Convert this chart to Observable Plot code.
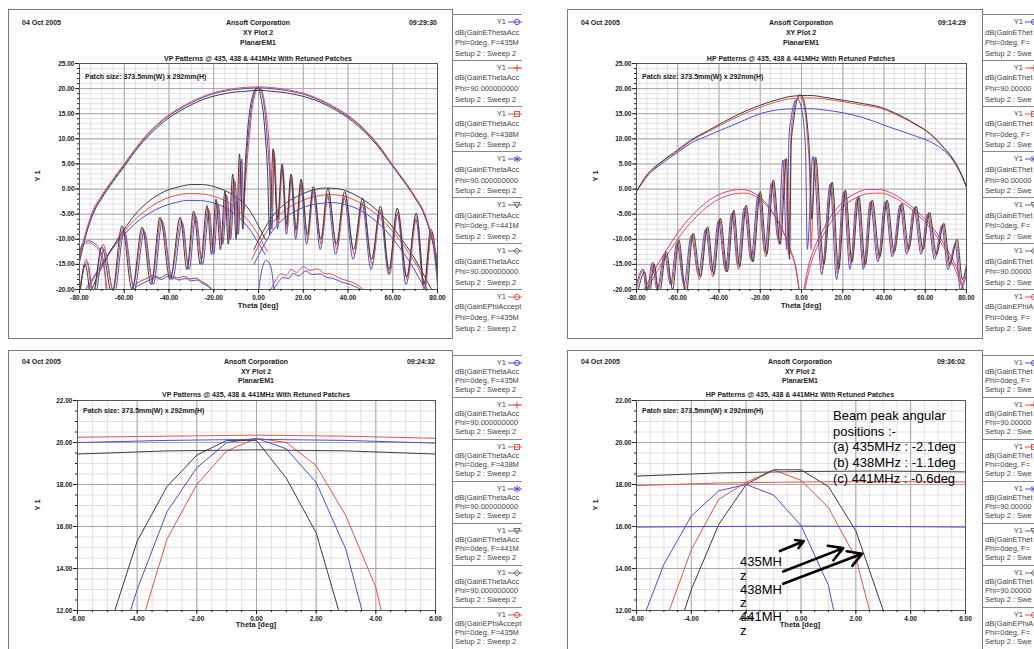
<!DOCTYPE html>
<html><head><meta charset="utf-8">
<script src="https://cdn.jsdelivr.net/npm/d3@7"></script>
<script src="https://cdn.jsdelivr.net/npm/@observablehq/plot@0.6"></script>
<style>
body{margin:0;background:#fff;}
#page{position:relative;width:1034px;height:649px;overflow:hidden;background:#fff;font-family:"Liberation Sans",Arial,sans-serif;}
.t{position:absolute;white-space:nowrap;line-height:1;}
.h{font-weight:bold;font-size:7px;color:#222;}
.lab{font-weight:bold;font-size:7.5px;color:#222;}
.lg{font-size:7.5px;color:#444;}
.ann{font-size:13px;color:#000;font-family:"Liberation Sans",Arial,sans-serif;}
.box{position:absolute;border:1px solid #7a7a7a;box-sizing:border-box;}
.leg{position:absolute;overflow:hidden;border-left:1px solid #7a7a7a;box-sizing:border-box;}
svg.chart{position:absolute;}
</style></head>
<body><div id="page"></div>
<script>
// ---------------- DATA ----------------
const BLUE = "#4c4cd8", RED = "#e2524e", BLACK = "#3c3c3c", PINK = "#d23d8e";

const panelTitles = ["VP Patterns @ 435, 438 & 441MHz With Retuned Patches", "HP Patterns @ 435, 438 & 441MHz With Retuned Patches"];
const panelTimes = ["09:29:30", "09:14:29", "09:24:32", "09:36:02"];
const headerLines = ["Ansoft Corporation", "XY Plot 2", "PlanarEM1"];
const patchNote = "Patch size: 373.5mm(W) x 292mm(H)";

const wideThetaTicks = [-80, -60, -40, -20, 0, 20, 40, 60, 80];
const wideDbTicks = [-20, -15, -10, -5, 0, 5, 10, 15, 20, 25];
const zoomThetaTicks = [-6, -4, -2, 0, 2, 4, 6];
const zoomDbTicks = [12, 14, 16, 18, 20, 22];

// VP (top-left / bottom-left) : Phi=90 broad patterns
const vpArc435 = [[-80,-13.5],[-77,-8.3],[-74,-4.3],[-70,-1.2],[-65,2],[-60,5],[-55,8.1],[-50,10.8],[-45,13],[-40,14.8],[-35,16.2],[-30,17.4],[-25,18.4],[-20,19.2],[-15,19.7],[-10,20.05],[-6,20.25],[-3,20.3],[0,20.35],[3,20.3],[6,20.2],[10,20],[15,19.6],[20,19.1],[25,18.3],[30,17.3],[35,16.1],[40,14.7],[45,12.9],[50,10.7],[55,8],[60,4.8],[65,1.8],[70,-1.5],[74,-4.6],[77,-8.6],[80,-14]];
const vpArc438 = [[-80,-14],[-77,-8.7],[-74,-4.7],[-70,-1.5],[-65,1.8],[-60,4.8],[-55,7.9],[-50,10.6],[-45,12.8],[-40,14.6],[-35,16],[-30,17.2],[-25,18.2],[-20,19],[-15,19.5],[-10,19.85],[-6,20],[-3,20.1],[0,20.15],[3,20.1],[6,19.97],[10,19.8],[15,19.4],[20,18.9],[25,18.1],[30,17.1],[35,15.9],[40,14.5],[45,12.7],[50,10.5],[55,7.8],[60,4.6],[65,1.6],[70,-1.7],[74,-4.9],[77,-9],[80,-14.5]];
const vpArc441 = [[-80,-14.5],[-77,-9],[-74,-5],[-70,-1.8],[-65,1.5],[-60,4.5],[-55,7.6],[-50,10.2],[-45,12.4],[-40,14.2],[-35,15.6],[-30,16.8],[-25,17.8],[-20,18.5],[-15,19],[-10,19.35],[-6,19.45],[-3,19.6],[0,19.65],[3,19.6],[6,19.45],[10,19.3],[15,18.95],[20,18.45],[25,17.75],[30,16.8],[35,15.6],[40,14.2],[45,12.4],[50,10.2],[55,7.6],[60,4.5],[65,1.5],[70,-1.8],[74,-5],[77,-9],[80,-14.5]];

// VP : Phi=0 beam + sidelobes
const vpBeam435 = [[-80,-20],[-76.5,-14.5],[-73.5,-22],[-69,-12],[-64.5,-21],[-60,-8.3],[-55.5,-20],[-51,-8.5],[-47,-19],[-43,-6.5],[-38.5,-18],[-34,-6.8],[-31,-16],[-28,-5.5],[-25,-15],[-22,-4.3],[-20,-13],[-18,-3.2],[-16,-11],[-14,-1.5],[-12.5,-10],[-10.5,1.5],[-9,-9],[-7.5,6],[-6.5,-4],[-6,2],[-5,8.5],[-4,13],[-3,16.7],[-2,18.8],[-1,20],[0,20.2],[1,19.7],[2,18.1],[3,14.9],[4,9.5],[5,3],[6,-8],[7,6.5],[8.5,-8],[10.5,4],[12.5,-9],[14.5,2],[16.6,-10],[18.8,1],[21.5,-11],[24.3,-0.5],[27.6,-12],[30.8,-1.2],[34.5,-13],[38.3,-1.8],[42.3,-14],[46.3,-3],[50.3,-16],[54.3,-4.5],[58.2,-17],[62,-5],[66,-19],[70.3,-6],[74,-20],[77,-9.5],[80,-19]];
const vpBeam438 = [[-80,-21],[-77,-14],[-74,-21],[-69.5,-11],[-65,-20],[-60.5,-7.8],[-56,-19],[-51.5,-8],[-47.5,-18],[-43.5,-6],[-39,-17],[-34.5,-6.2],[-31.5,-15],[-28.5,-4.9],[-25.5,-14],[-22.5,-3.8],[-20.5,-12],[-18.5,-2.6],[-16.5,-11],[-14.5,-1],[-13,-10],[-11,2],[-9.5,-9],[-8,5.5],[-7,-6],[-6,0],[-5,6],[-4,10.7],[-3,15.4],[-2,18],[-1,19.6],[0,20.2],[1,20],[2,18.9],[3,16.5],[4,13.1],[5,7],[6,-4],[7,7.5],[8.8,-7],[10.8,4.5],[12.8,-8],[14.8,2.5],[17,-9],[19.3,1.5],[22,-10],[24.8,0],[28,-11],[31.3,-0.8],[35,-12],[38.8,-1.3],[42.8,-13],[46.8,-2.5],[50.8,-15],[54.8,-4],[58.6,-17],[62.4,-4.5],[66.5,-18],[70.8,-5.5],[74.3,-20],[77.5,-8.5],[80,-18]];
const vpBeam441 = [[-80,-22],[-77.5,-15],[-74.5,-22],[-70,-11.5],[-65.5,-21],[-61,-7.3],[-56.5,-20],[-52,-7.6],[-48,-19],[-44,-5.6],[-39.5,-18],[-35,-5.6],[-32,-16],[-29,-4.4],[-26,-15],[-23,-3.3],[-21,-13],[-19,-2],[-17,-12],[-15,-0.4],[-13.5,-11],[-11.5,3],[-10,-10],[-8.5,7],[-7,-8],[-6,4],[-5,10.9],[-4,15.3],[-3,17.9],[-2,19.4],[-1,20.1],[0,20.1],[1,18.3],[2,15.7],[3,10.8],[4,4],[5,-9],[6.5,8],[8.5,-6],[10.5,5],[12.5,-7],[14.5,3],[16.8,-8],[19,2],[21.8,-9],[24.5,0.5],[27.8,-10],[31,0.2],[34.8,-11],[38.5,-0.5],[42.5,-12],[46.5,-1.8],[50.5,-14],[54.5,-3.4],[58.3,-16],[62,-3.8],[66.2,-17.5],[70.5,-4.8],[74,-19],[77,-8],[80,-17]];

// VP : lower humps
const vpHumpLeft441 = [[-75,-20.5],[-70,-15.5],[-65,-11.5],[-60,-8],[-55,-5],[-50,-2.8],[-45,-1.2],[-40,-0.1],[-35,0.5],[-30,0.9],[-25,0.9],[-20,0.5],[-15,-0.3],[-10,-1.6],[-5,-3.6],[-1,-6.5],[3,-10]];
const vpHumpRight441 = [[-2,-12],[2,-8.5],[6,-5.6],[10,-3.6],[15,-2],[20,-0.9],[25,-0.1],[30,0.2],[35,0.1],[40,-0.5],[45,-1.6],[50,-3.1],[55,-5.1],[60,-7.6],[65,-10.6],[70,-14],[74,-17.2],[78,-20.5]];
const vpHumpLeft438 = [[-77,-20.5],[-72,-16.5],[-67,-12.8],[-62,-9.6],[-57,-6.9],[-52,-4.8],[-47,-3.2],[-42,-2],[-37,-1.3],[-31,-0.9],[-25,-1],[-19,-1.6],[-13,-2.8],[-8,-4.6],[-3,-7.2],[1,-10],[4,-12.5]];
const vpHumpRight438 = [[-3,-14],[1,-10.5],[5,-7.5],[10,-4.9],[15,-3.3],[20,-2.2],[26,-1.4],[32,-1.1],[37,-1.3],[42,-2],[47,-3.2],[52,-4.8],[57,-6.9],[62,-9.5],[67,-12.6],[72,-16.3],[76,-20.5]];
const vpHumpLeft435 = [[-78,-20.5],[-73,-17],[-68,-13.6],[-63,-10.6],[-58,-8.1],[-53,-6.1],[-48,-4.6],[-43,-3.5],[-38,-2.8],[-32,-2.3],[-26,-2.3],[-20,-2.8],[-14,-3.9],[-9,-5.5],[-4,-8],[0,-10.8],[3,-13]];
const vpHumpRight435 = [[-2,-15],[2,-11.5],[6,-8.5],[11,-6],[16,-4.5],[21,-3.5],[27,-2.9],[33,-2.7],[38,-3],[43,-3.7],[48,-4.9],[53,-6.6],[58,-8.8],[63,-11.6],[68,-14.8],[73,-18.7],[75.5,-20.5]];

// VP : cross-pol (EPhi) low-level lobes
const vpPhiLeftA = [[-58,-20.5],[-55,-19],[-52,-18.2],[-49,-17.6],[-46.5,-17.2],[-44,-17.7],[-41,-17],[-38.5,-17.3],[-36,-17.7],[-33,-17.4],[-30.5,-17.9],[-28,-17.7],[-25.5,-18.4],[-23,-19],[-20,-20.5]];
const vpPhiLeftB = [[-57,-20.5],[-54,-19.3],[-51,-18.6],[-48.5,-18.1],[-46,-17.6],[-43.5,-18],[-40.5,-17.4],[-38,-17.7],[-35.5,-18.1],[-32.5,-17.8],[-30,-18.3],[-27.5,-18.1],[-25,-18.8],[-22.5,-19.4],[-19.5,-20.5]];
const vpPhiRightA = [[5,-20.5],[7.5,-18.3],[10,-16.9],[12.5,-17.2],[14.5,-16],[17,-16.6],[20,-15.4],[23,-16.2],[26.5,-15.9],[29.5,-16.8],[32.5,-16.9],[36,-17.7],[40,-18.3],[44,-19],[48,-20.5]];
const vpPhiRightB = [[6,-20.5],[8.5,-18.8],[11,-17.6],[13.5,-17.8],[15.5,-16.8],[18,-17.3],[21,-16.3],[24,-17],[27.5,-16.9],[30.5,-17.6],[33.5,-17.8],[37,-18.5],[41,-19],[45,-19.8],[49,-20.5]];
const vpPhiEdgeA = [[-80,-12.5],[-78.5,-10.8],[-76,-10.3],[-73,-10.9],[-70.5,-12.5],[-69,-15],[-68,-20.5]];
const vpPhiEdgeB = [[-80,-13],[-78.5,-11.2],[-76,-10.7],[-73,-11.4],[-70.5,-13],[-69,-16],[-67.5,-20.5]];
const vpPhiCentre = [[0,-20.5],[1.5,-16],[3.5,-14.2],[5.5,-15.5],[7,-20.5]];

// HP (top-right / bottom-right) : Phi=90 broad patterns
const hpArc435 = [[-80,-0.5],[-75,2.5],[-68,5.3],[-60,7.6],[-53.8,9.5],[-45,11.5],[-39.3,12.7],[-30,14.6],[-20,16.3],[-10,17.6],[-6,17.95],[-3,18.07],[0,18.12],[3,18.14],[6,18.12],[10,18],[20,17.4],[30,16.7],[38.3,16.1],[45,15],[50,14],[55,12.9],[62.5,10.9],[68,8.6],[73.8,5.7],[78,2.4],[80,0.4]];
const hpArc438 = [[-80,-0.5],[-75,2.5],[-68,5],[-60,7.3],[-53.8,9.1],[-45,10.7],[-39.3,11.7],[-30,13.3],[-20,15],[-10,15.85],[-6,15.97],[-3,16],[0,16.02],[3,16],[6,15.97],[10,15.8],[20,15.2],[30,14.2],[38.3,13],[45,12],[54.3,10.7],[62,9.5],[68,8],[73.8,5.5],[78,2.3],[80,0.3]];
const hpArc441 = [[-80,-0.5],[-75,2.8],[-68,5.4],[-60,7.8],[-53.8,9.7],[-45,11.7],[-39.3,13],[-30,15],[-20,16.7],[-10,18],[-6,18.4],[-3,18.55],[0,18.62],[3,18.64],[6,18.6],[10,18.35],[20,17.7],[30,17],[38.3,16.3],[45,15.2],[50,14.2],[55,13],[62.5,11],[68,8.7],[73.8,5.8],[78,2.5],[80,0.5]];

// HP : Phi=0 beam + sidelobes
const hpBeam435 = [[-80,-19],[-77,-16],[-75,-21],[-72.5,-14.8],[-70,-20],[-66.5,-13],[-63.5,-19],[-60.5,-10.8],[-57,-19],[-53.5,-9.3],[-50,-17],[-46.5,-8],[-43.5,-16.5],[-40.3,-6.3],[-37,-16],[-33.8,-4.8],[-31,-15],[-27.8,-3.8],[-24.5,-14],[-21,-1.2],[-17.8,-12.5],[-14.6,1.2],[-11.3,-10],[-9,5.8],[-7.2,-12],[-6,10.8],[-5,14.2],[-4,16.5],[-3,17.7],[-2,18],[-1,17.5],[0,16.05],[1,13.2],[2,7],[2.8,-12],[5.5,6.5],[9.8,-17],[13.9,1],[17,-18],[20.3,-0.6],[23.5,-16],[26.8,-1.9],[30,-16],[33.3,-2.6],[37,-14.5],[40.5,-2.6],[44,-13.5],[47.8,-3.2],[51,-13],[54.5,-3.8],[58,-13],[61,-5],[64.5,-14],[68,-7.3],[71,-16],[74.5,-11],[77,-20],[80,-17]];
const hpBeam438 = [[-80,-20],[-76.5,-16],[-74.5,-21],[-72,-14.5],[-69.5,-20],[-66,-12.8],[-63,-19],[-60,-10.5],[-56.5,-20],[-53,-9],[-49.5,-18],[-46,-7.8],[-43,-17.5],[-39.8,-6],[-36.5,-16.5],[-33.3,-4.5],[-30.5,-16],[-27.3,-3.5],[-24,-14.5],[-20.5,-0.8],[-17.3,-13.5],[-14.1,1.5],[-10.8,-11],[-8,6],[-6.3,-13],[-5,11.3],[-4,14.9],[-3,17.3],[-2,18.1],[-1,18.7],[0,18.2],[1,16.9],[2,14.5],[3,9.5],[4,2],[4.6,-12],[6.3,6],[10.3,-16],[14.4,1.2],[17.5,-17],[20.8,-0.4],[24,-15],[27.3,-1.7],[30.5,-15.5],[33.8,-2.4],[37.5,-14],[41,-2.4],[44.5,-13],[48.3,-3],[51.5,-12.5],[55,-3.6],[58.5,-12.5],[61.5,-4.8],[65,-13.5],[68.5,-7],[71.5,-15.5],[75,-10.5],[77.5,-19],[80,-16]];
const hpBeam441 = [[-80,-22],[-76,-16.5],[-74,-22],[-71.5,-15],[-69,-21],[-65.5,-12.5],[-62.5,-20],[-59.5,-10.1],[-56,-21],[-52.5,-8.8],[-49,-17.5],[-45.5,-7.5],[-42.5,-17],[-39.3,-5.8],[-36,-16.5],[-32.8,-4.2],[-30,-15.5],[-26.8,-3.2],[-23.5,-14.5],[-20,-0.5],[-16.8,-13],[-13.6,1.8],[-10.3,-11],[-7.3,6.1],[-5.8,-14],[-5,9],[-4,13],[-3,16.1],[-2,18],[-1,18.7],[0,18.7],[1,17.9],[2,15.8],[3,12],[4,6],[5,-6],[6.8,6.4],[10.8,-15],[14.9,1.4],[18,-16],[21.3,-0.2],[24.5,-14.5],[27.8,-1.5],[31,-15],[34.3,-2.2],[38,-13.5],[41.5,-2.2],[45,-12.5],[48.8,-2.8],[52,-12],[55.5,-3.4],[59,-12],[62,-4.6],[65.5,-13],[69,-6.8],[72,-15],[75.5,-10],[78,-18],[80,-15]];

// HP : lower humps
const hpHumpLeftA = [[-77,-20.5],[-73,-17.5],[-69,-14.5],[-64,-11.2],[-58,-7.6],[-52,-4.8],[-46,-2.6],[-40,-1.1],[-34,-0.3],[-29,-0.1],[-24,-0.6],[-19,-2],[-14,-4.6],[-10,-7.5],[-6,-11.5],[-3,-15.5],[-1,-20.5]];
const hpHumpLeftB = [[-76,-20.5],[-72,-17.8],[-68,-15],[-63,-11.8],[-57,-8.3],[-51,-5.5],[-45,-3.3],[-39,-1.8],[-33,-1],[-28,-0.8],[-23,-1.3],[-18,-2.8],[-13,-5.4],[-9,-8.3],[-5,-12.5],[-2.5,-16],[-1,-20.5]];
const hpHumpRightA = [[1,-20.5],[3,-16],[6,-12],[10,-8.5],[15,-5],[20,-2.6],[26,-0.9],[32,-0.1],[38,-0.1],[44,-0.9],[50,-2.4],[56,-4.4],[62,-6.9],[67,-9.6],[72,-13],[76,-16.5],[79,-20.5]];
const hpHumpRightB = [[1.5,-20.5],[3.5,-16.5],[6.5,-12.6],[10.5,-9.2],[15.5,-5.8],[20.5,-3.4],[26.5,-1.7],[32.5,-0.9],[38.5,-0.8],[44.5,-1.6],[50.5,-3.1],[56.5,-5.2],[62.5,-7.8],[67.5,-10.6],[72.5,-14.2],[76.5,-18],[79,-21]];

// Annotation (bottom-right)
const peakNotes = ["Beam peak angular", "positions :-", "(a) 435MHz : -2.1deg", "(b) 438MHz : -1.1deg", "(c) 441MHz : -0.6deg"];
const freqLabels = ["435MH", "z", "438MH", "z", "441MH", "z"];
const arrowFromTheta = [-0.77, -0.65, -0.65];
const arrowFromDb = [14.83, 13.86, 13.27];
const arrowToTheta = [0.10, 1.54, 2.23];
const arrowToDb = [15.30, 14.97, 14.70];

// Legend
const legendQuantities = ["dB(GainEThetaAccepted)","dB(GainEThetaAccepted)","dB(GainEThetaAccepted)","dB(GainEThetaAccepted)","dB(GainEThetaAccepted)","dB(GainEThetaAccepted)","dB(GainEPhiAccepted)"];
const legendParams = ["Phi=0deg, F=435MHz","Phi=90.00000000000001deg, F=435MHz","Phi=0deg, F=438MHz","Phi=90.00000000000001deg, F=438MHz","Phi=0deg, F=441MHz","Phi=90.00000000000001deg, F=441MHz","Phi=0deg, F=435MHz"];
const legendColors = [BLUE, RED, RED, BLUE, "#6a6a6a", "#6a6a6a", RED];
const legendMarkers = ["circle", "plus", "square", "star", "triangle", "diamond", "circle"];

// ---------------- DRAWING ----------------
const page = document.getElementById("page");
function text(s, x, y, anchor, cls, rot) {
  const d = document.createElement("div");
  d.className = "t " + (cls || "");
  d.textContent = s;
  d.style.left = x + "px"; d.style.top = y + "px";
  const tx = anchor === "middle" ? "-50%" : anchor === "end" ? "-100%" : "0";
  d.style.transform = `translate(${tx},-50%)` + (rot ? ` rotate(${rot}deg)` : "");
  page.appendChild(d);
  return d;
}
function box(x, y, w, h) {
  const d = document.createElement("div");
  d.className = "box";
  Object.assign(d.style, {left: x + "px", top: y + "px", width: w + "px", height: h + "px"});
  page.appendChild(d);
}
const fmt = d => (d < 0 ? "-" : "") + Math.abs(d).toFixed(2);

function chart(cfg) {
  const marks = [
    Plot.gridX(cfg.xMinor, {stroke: "#d6d6d6", strokeOpacity: 1, strokeWidth: 0.7}),
    Plot.gridY(cfg.yMinor, {stroke: "#d6d6d6", strokeOpacity: 1, strokeWidth: 0.7}),
    Plot.gridX(cfg.xTicks, {stroke: "#a2a2a2", strokeOpacity: 1, strokeWidth: 0.9}),
    Plot.gridY(cfg.yTicks, {stroke: "#a2a2a2", strokeOpacity: 1, strokeWidth: 0.9}),
    ...cfg.series.map(s => Plot.line(s.data, {x: d => d[0], y: d => d[1], stroke: s.color, strokeWidth: s.w || 1, clip: true, curve: cfg.curve || "linear"})),
    Plot.frame({stroke: "#555", strokeWidth: 1}),
    Plot.axisX(cfg.xMinor, {tickSize: 2, tickFormat: () => "", label: null}),
    Plot.axisY(cfg.yMinor, {tickSize: 2, tickFormat: () => "", label: null}),
    Plot.axisX(cfg.xTicks, {tickSize: 4, tickPadding: 2, tickFormat: fmt, label: null, fontWeight: "bold"}),
    Plot.axisY(cfg.yTicks, {tickSize: 4, tickPadding: 1, tickFormat: fmt, label: null, fontWeight: "bold"}),
    ...(cfg.extra || [])
  ];
  const svg = Plot.plot({
    width: cfg.width, height: cfg.height,
    marginLeft: cfg.ml, marginRight: cfg.mr, marginTop: cfg.mt, marginBottom: cfg.mb,
    x: {domain: cfg.xDomain}, y: {domain: cfg.yDomain},
    style: {background: "transparent", fontFamily: "Liberation Sans, Arial, sans-serif", fontSize: "6.5px", fontWeight: "bold", color: "#222", overflow: "visible"},
    marks
  });
  svg.classList.add("chart");
  svg.style.left = cfg.left + "px"; svg.style.top = cfg.top + "px";
  page.appendChild(svg);
}

// panel boxes
box(8, 9, 445, 330); box(567, 9, 416, 330);
box(8, 350, 445, 310); box(567, 350, 416, 310);

const vpSeries = [
  {data: vpPhiEdgeA, color: BLUE}, {data: vpPhiEdgeB, color: RED}, {data: vpPhiCentre, color: BLUE},
  {data: vpPhiLeftA, color: "#b04040"}, {data: vpPhiLeftB, color: "#5a4ab8"},
  {data: vpPhiRightA, color: RED}, {data: vpPhiRightB, color: BLUE},
  {data: vpHumpLeft435, color: BLUE}, {data: vpHumpRight435, color: BLUE},
  {data: vpHumpLeft438, color: RED}, {data: vpHumpRight438, color: RED},
  {data: vpHumpLeft441, color: BLACK}, {data: vpHumpRight441, color: BLACK},
  {data: vpBeam435, color: BLUE}, {data: vpBeam438, color: RED}, {data: vpBeam441, color: BLACK},
  {data: vpArc441, color: BLACK}, {data: vpArc438, color: BLUE}, {data: vpArc435, color: RED}
];
const hpSeries = [
  {data: hpHumpLeftB, color: RED}, {data: hpHumpLeftA, color: PINK},
  {data: hpHumpRightB, color: RED}, {data: hpHumpRightA, color: PINK},
  {data: hpBeam435, color: BLUE}, {data: hpBeam438, color: RED}, {data: hpBeam441, color: BLACK},
  {data: hpArc438, color: BLUE}, {data: hpArc435, color: RED}, {data: hpArc441, color: BLACK}
];
const vpZoom = [
  {data: vpBeam435, color: BLUE}, {data: vpBeam438, color: RED}, {data: vpBeam441, color: BLACK},
  {data: vpArc441, color: BLACK}, {data: vpArc438, color: BLUE}, {data: vpArc435, color: RED}
];
const hpZoom = [
  {data: hpBeam435, color: BLUE}, {data: hpBeam438, color: RED}, {data: hpBeam441, color: BLACK},
  {data: hpArc438, color: BLUE}, {data: hpArc435, color: RED}, {data: hpArc441, color: BLACK}
];

const wideMinorX = d3.range(-80, 80.1, 5), wideMinorY = d3.range(-20, 25.1, 1);
const zoomMinorX = d3.range(-6, 6.01, 0.5), zoomMinorY = d3.range(12, 22.01, 0.5);

chart({left: 0, top: 0, width: 452, height: 338, ml: 79, mr: 15, mt: 63, mb: 49, curve: "monotone-x",
  xDomain: [-80, 80], yDomain: [-20, 25], xTicks: wideThetaTicks, yTicks: wideDbTicks,
  xMinor: wideMinorX, yMinor: wideMinorY, series: vpSeries});
chart({left: 567, top: 0, width: 415, height: 338, ml: 69, mr: 16, mt: 63, mb: 49, curve: "monotone-x",
  xDomain: [-80, 80], yDomain: [-20, 25], xTicks: wideThetaTicks, yTicks: wideDbTicks,
  xMinor: wideMinorX, yMinor: wideMinorY, series: hpSeries});
chart({left: 0, top: 350, width: 452, height: 299, ml: 77, mr: 17, mt: 50, mb: 39,
  xDomain: [-6, 6], yDomain: [12, 22], xTicks: zoomThetaTicks, yTicks: zoomDbTicks,
  xMinor: zoomMinorX, yMinor: zoomMinorY, series: vpZoom});
const arrows = arrowFromTheta.map((t, i) => ({x1: t, y1: arrowFromDb[i], x2: arrowToTheta[i], y2: arrowToDb[i]}));
chart({left: 567, top: 350, width: 415, height: 299, ml: 69, mr: 17, mt: 50, mb: 39,
  xDomain: [-6, 6], yDomain: [12, 22], xTicks: zoomThetaTicks, yTicks: zoomDbTicks,
  xMinor: zoomMinorX, yMinor: zoomMinorY, series: hpZoom,
  extra: [Plot.arrow(arrows, {x1: "x1", y1: "y1", x2: "x2", y2: "y2", stroke: "#000", strokeWidth: 2.6, headLength: 9})]});

// headers
const panels = [
  {x0: 22, xc: 258, xr: 437, title: panelTitles[0], time: panelTimes[0], yl: 38, xl: 79},
  {x0: 581, xc: 801, xr: 966, title: panelTitles[1], time: panelTimes[1], yl: 596, xl: 636},
  {x0: 22, xc: 256, xr: 435, title: panelTitles[0], time: panelTimes[2], yl: 38, xl: 77},
  {x0: 581, xc: 800, xr: 965, title: panelTitles[1], time: panelTimes[3], yl: 596, xl: 636}
];
panels.forEach((p, i) => {
  const base = i < 2 ? 22 : 361;
  text("04 Oct 2005", p.x0, base, "start", "h");
  text(p.time, p.xr, base, "end", "h");
  headerLines.forEach((s, k) => text(s, p.xc, base + k * (i < 2 ? 10 : 9.5), "middle", "h"));
  text(p.title, p.xc, i < 2 ? 58 : 394, "middle", "h");
  text(patchNote, p.xl + 6, i < 2 ? 76 : 410, "start", "h");
  text("Y 1", p.yl, i < 2 ? 176 : 505, "middle", "lab", -90);
  text("Theta [deg]", p.xc, i < 2 ? 306 : 625, "middle", "lab");
});

// legends (text is clipped at the visible width, as in the reference)
function swatch(color, marker) {
  const m = {
    circle: `<circle cx="9" cy="4" r="2.6" fill="none" stroke="${color}"/>`,
    plus: `<path d="M9 0.5V7.5M5.5 4H12.5" stroke="${color}"/>`,
    square: `<rect x="6.5" y="1.5" width="5" height="5" fill="none" stroke="${color}"/>`,
    star: `<path d="M9 0.5V7.5M6 2L12 6M12 2L6 6" stroke="${color}"/>`,
    triangle: `<path d="M6 1.5H12L9 7Z" fill="none" stroke="${color}"/>`,
    diamond: `<path d="M9 0.8L12 4L9 7.2L6 4Z" fill="none" stroke="${color}"/>`
  }[marker];
  return `<svg width="22" height="8" style="position:absolute"><line x1="0" y1="4" x2="22" y2="4" stroke="${color}"/>${m}</svg>`;
}
function legend(x0, top, w, h, first, gap, lh, yRight) {
  const c = document.createElement("div");
  c.className = "leg";
  Object.assign(c.style, {left: x0 + "px", top: top + "px", width: w + "px", height: h + "px"});
  page.appendChild(c);
  legendQuantities.forEach((q, i) => {
    const y = first + i * gap;
    const sep = document.createElement("div");
    Object.assign(sep.style, {position: "absolute", left: "0", top: (y - 8) + "px", width: "100%", borderTop: "1px solid #8a8a8a"});
    c.appendChild(sep);
    const add = (s, x, yy, anchor, fit) => {
      const d = document.createElement("div");
      d.className = "t lg"; d.textContent = s;
      d.style.left = x + "px"; d.style.top = yy + "px";
      d.style.transform = `translate(${anchor === "end" ? "-100%" : "0"},-50%)`;
      c.appendChild(d);
      if (fit) { let str = s; while (str.length > 1 && x + d.getBoundingClientRect().width > w - 1) { str = str.slice(0, -1); d.textContent = str; } }
    };
    add("Y1", yRight, y, "end");
    const sw = document.createElement("div");
    sw.innerHTML = swatch(legendColors[i], legendMarkers[i]);
    Object.assign(sw.style, {position: "absolute", left: (yRight + 2) + "px", top: (y - 4) + "px"});
    c.appendChild(sw);
    add(q, 2, y + lh, "start", true);
    add(legendParams[i], 2, y + 2 * lh, "start", true);
    add("Setup 2 : Sweep 2", 2, y + 3 * lh, "start", true);
  });
}
legend(452, 9, 70, 330, 13, 45.8, 10.6, 53);
legend(982, 9, 52, 330, 13, 45.8, 10.6, 40);
legend(452, 350, 70, 299, 13, 42, 9, 53);
legend(982, 350, 52, 299, 13, 42, 9, 40);

// bottom-right annotation
peakNotes.forEach((s, k) => text(s, 833, 415 + k * 15.7, "start", "ann"));
freqLabels.forEach((s, k) => text(s, 740, 561 + k * 13.8, "start", "ann"));
</script>
</body></html>
